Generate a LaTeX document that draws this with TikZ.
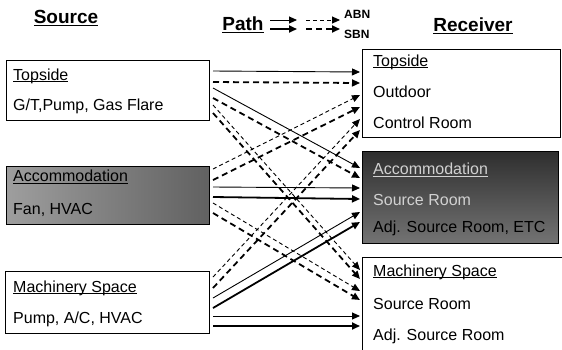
\documentclass[tikz,border=0pt]{standalone}
\usepackage{fontspec}
\setmainfont{Liberation Sans}
\usetikzlibrary{arrows.meta}
\newcommand{\nsul}[2][0.9pt]{\setbox0\hbox{#2}\rlap{\rule[-2.2pt]{\wd0}{#1}}\box0}
\tikzset{
  nsbox/.style={rectangle, draw, line width=0.9pt, inner sep=0pt},
  nsgray/.style={nsbox, left color=black!38, right color=black!62},
  nsdark/.style={nsbox, top color=black!82, bottom color=black!55},
  nstitle/.style={inner sep=0pt, font=\fontsize{19}{21}\selectfont\bfseries},
  nstext/.style={anchor=west, inner sep=0pt, font=\fontsize{16}{18}\selectfont},
  nskey/.style={anchor=west, inner sep=0pt, font=\fontsize{12}{13}\selectfont\bfseries},
  nstip/.style={-{Triangle[length=8pt,width=7pt]}},
  abnline/.style={nstip, line width=0.9pt},
  sbnline/.style={nstip, line width=1.8pt},
  abnpath/.style={nstip, line width=0.9pt, dash pattern=on 4pt off 3pt},
  sbnpath/.style={nstip, line width=1.8pt, dash pattern=on 6pt off 4pt}
}

\begin{document}
\begin{tikzpicture}[x=1pt, y=-1pt]
  \useasboundingbox (0,0) rectangle (562,349);
  % titles and key
  \node[nstitle] (src) at (66,18) {\nsul[1.2pt]{Source}};
  \node[nstitle] (rcv) at (473,26) {\nsul[1.2pt]{Receiver}};
  \node[nstitle] (path) at (243,25) {\nsul[1.2pt]{Path}};
  \node[nskey] (abn) at (344,14) {ABN};
  \node[nskey] (sbn) at (344,34) {SBN};
  \foreach \n/\x/\y in {ka/270/20, kb/297/20, kc/306/20, kd/340/20,
                        ke/270/29, kf/297/29, kg/306/29, kh/340/29}
    \coordinate (\n) at (\x,\y);
  \draw[abnline] (ka) -- (kb);
  \draw[abnpath] (kc) -- (kd);
  \draw[sbnline] (ke) -- (kf);
  \draw[sbnpath] (kg) -- (kh);

  % source side
  \node[nsbox, minimum width=203pt, minimum height=60pt] (tsrc) at (107.5,90) {};
  \node[nsgray, minimum width=203pt, minimum height=58pt] (asrc) at (107.5,195) {};
  \node[nsbox, minimum width=204pt, minimum height=62pt] (msrc) at (107,302) {};
  \node[nstext] (tsrc1) at (13,76) {\nsul{Topside}};
  \node[nstext] (tsrc2) at (13,106) {G/T,Pump, Gas Flare};
  \node[nstext] (asrc1) at (13,177) {\nsul{Accommodation}};
  \node[nstext] (asrc2) at (13,210) {Fan, HVAC};
  \node[nstext] (msrc1) at (13,288) {\nsul{Machinery Space}};
  \node[nstext] (msrc2) at (13,319) {Pump, A/C, HVAC};

  % receiver side
  \node[nsbox, minimum width=198pt, minimum height=88pt] (trcv) at (461,93) {};
  \node[nsdark, minimum width=196pt, minimum height=92pt] (arcv) at (460,197) {};
  \node[nsbox, minimum width=206pt, minimum height=100pt] (mrcv) at (465,307) {};
  \node[nstext] (trcv1) at (373,62) {\nsul{Topside}};
  \node[nstext] (trcv2) at (373,92) {Outdoor};
  \node[nstext] (trcv3) at (373,123) {Control Room};
  \node[nstext, white!82!black] (arcv1) at (373,170) {\nsul{Accommodation}};
  \node[nstext, white!82!black] (arcv2) at (373,200) {Source Room};
  \node[nstext] (arcv3) at (373,228) {Adj. Source Room, ETC};
  \node[nstext] (mrcv1) at (373,272) {\nsul{Machinery Space}};
  \node[nstext] (mrcv2) at (373,304) {Source Room};
  \node[nstext] (mrcv3) at (373,336) {Adj. Source Room};

  % ports on the box edges
  \foreach \y [count=\i] in {71, 82, 88, 98, 105, 113}
    \coordinate (ts\i) at (213,\y);
  \foreach \y [count=\i] in {169, 180, 187, 197, 203, 213}
    \coordinate (as\i) at (213,\y);
  \foreach \y [count=\i] in {277, 288, 298, 308, 316, 326}
    \coordinate (ms\i) at (213,\y);
  \foreach \y [count=\i] in {72, 83, 95, 107, 119, 130}
    \coordinate (tr\i) at (360,\y);
  \foreach \y [count=\i] in {168, 178, 188, 199, 212, 222}
    \coordinate (ar\i) at (360,\y);
  \foreach \y [count=\i] in {270, 279, 291, 300, 316, 326}
    \coordinate (mr\i) at (360,\y);

  % paths
  \foreach \a/\b/\kind in {ts1/tr1/abnline, ts2/tr2/sbnpath,
                           ts3/ar1/abnline, ts4/ar2/sbnpath,
                           ts5/mr1/abnpath, ts6/mr2/sbnpath,
                           as1/tr3/abnpath, as2/tr4/sbnpath,
                           as3/ar3/abnline, as4/ar4/sbnline,
                           as5/mr3/abnpath, as6/mr4/sbnpath,
                           ms1/tr5/abnpath, ms2/tr6/sbnpath,
                           ms3/ar5/abnline, ms4/ar6/sbnline,
                           ms5/mr5/abnline, ms6/mr6/sbnline}
    \draw[\kind] (\a) -- (\b);
\end{tikzpicture}
\end{document}
